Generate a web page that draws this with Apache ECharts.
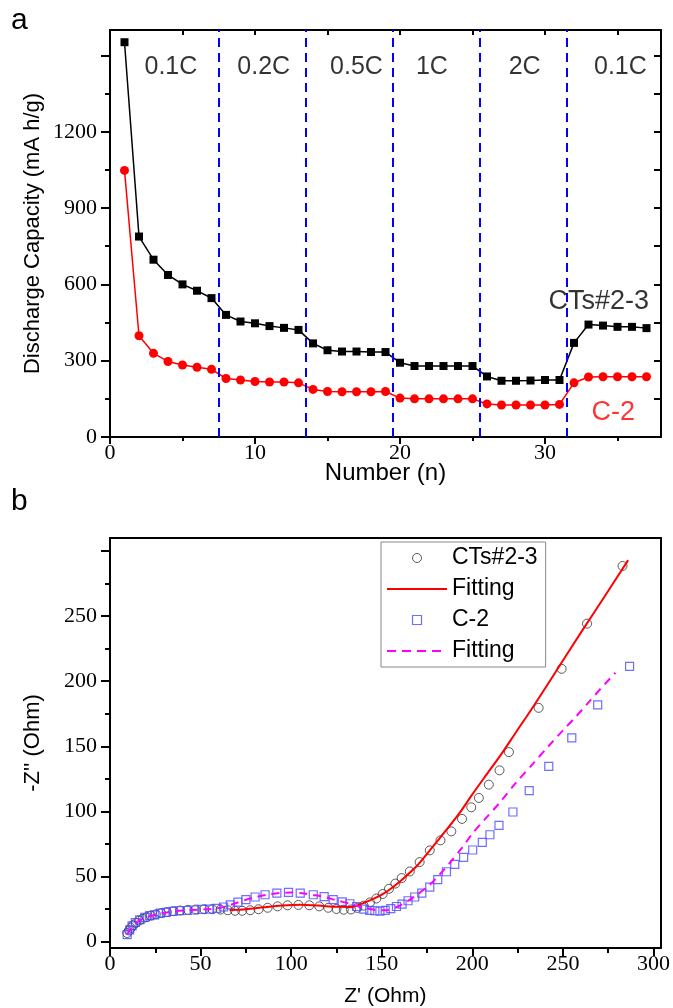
<!DOCTYPE html>
<html><head><meta charset="utf-8">
<script src="https://cdn.jsdelivr.net/npm/echarts@6/dist/echarts.min.js"></script>
<style>html,body{margin:0;padding:0;background:#fff}#c{width:673px;height:1008px}</style>
</head><body><div id="c"></div>
<script>
// ---------- Panel a: rate capability ----------
const cycles = [1,2,3,4,5,6,7,8,9,10,11,12,13,14,15,16,17,18,19,20,21,22,23,24,25,26,27,28,29,30,31,32,33,34,35,36,37];
const capCTs = [1552,788,697,637,600,575,546,480,454,447,436,429,421,368,341,336,336,334,334,292,279,279,279,279,279,238,221,221,222,224,224,370,442,438,433,433,428];
const capC2  = [1048,398,329,297,283,274,266,230,224,218,216,216,213,187,179,178,178,178,179,153,150,150,150,150,150,130,126,126,126,126,128,213,236,237,237,237,237];
const rateBoundaries = [7.5,13.5,19.5,25.5,31.5];
const rateLabels = ['0.1C','0.2C','0.5C','1C','2C','0.1C'];
const rateLabelX = [4.2,10.6,17.0,22.2,28.6,35.2];
const rateLabelY = [1455,1455,1455,1455,1455,1455];
const seriesLabelText = ['CTs#2-3','C-2'];
const seriesLabelX = [33.7,34.7];
const seriesLabelY = [531,98];
const xMajorA = [0,10,20,30];
const xMinorA = [5,15,25,35];
const xTopA = [5,10,15,20,25,30,35];
const yMajorA = [0,300,600,900,1200,1500];
const yLabelA = [0,300,600,900,1200];
const yMinorA = [150,450,750,1050,1350];
const yRightA = [150,300,450,600,750,900,1050,1200,1350,1500];

// ---------- Panel b: Nyquist plot ----------
const ctsZre = [9.5,10.5,11.5,12.8,14.3,16,18,20.2,22.6,25.3,28.2,31.4,35,38.8,43,47.4,52,56.5,61,65,69,73,77.4,82,87,92.5,98,104,110,115.5,120.5,125,129,133,136.5,140,143.5,147,150.5,154,157.5,161,165.5,170.9,176.5,182.4,188.4,194.3,199.4,203.6,209.1,215,220.2,236.6,249.3,263.3,282.9];
const ctsZim = [6.5,8.5,10.5,12.5,14.3,16,17.4,18.7,19.9,20.9,21.8,22.6,23.3,23.8,24.3,24.6,24.8,24.8,24.5,24.0,23.6,23.6,24.0,24.8,25.9,27,27.8,28.1,27.8,27,25.9,25,24.4,24.6,25.8,27.5,30,33,36.5,40.5,44.5,48.7,53.8,61,70,77.7,84.6,94.2,103.1,110.3,120.5,131.5,145.5,179.5,209.5,244.2,288.5];
const c2Zre = [9.5,10.9,12.2,14,16.4,19.2,21.9,24.7,27.8,31.1,34.8,38.4,42.5,46.5,50.8,55,59,62.7,66.4,70.6,75,80.1,85.6,92.1,98.5,105,112.2,118.2,123.2,128.2,132.4,136.1,140.1,143.4,146.2,149,151.9,155,158.1,161.2,164.5,168.2,172.1,176.5,180.9,185.7,190.3,195.2,200.2,205.5,209.7,214.7,222.4,231.4,242.2,254.9,269.2,286.8];
const c2Zim = [5.2,9,12,14.6,16.7,18.5,19.8,20.5,21.8,22.3,23.1,23.6,23.8,24.2,24.6,24.9,25.4,26.5,28.2,30.3,32.1,34.2,35.9,37.2,37.7,37.2,35.9,34.4,32.1,30.5,29,26.9,24.9,23.9,23.6,23.4,23.9,25.2,26.9,28.7,31.3,34.2,37.2,41.8,47.5,53.6,59.2,64.6,70.3,76.2,82,89.2,99.5,115.9,134.5,156.4,181.8,211.3];
const fit1Zre = [66,75,85,95,105,115,125,132,136,139.8,145,150,155,160,170,178.3,185.5,193,200,207.7,216,224.2,233.4,245,260,273,286];
const fit1Zim = [24.2,24.8,26.3,27.6,28.2,27.6,26.6,26.5,27.5,29.5,32.5,36,40.5,46,59,73,85.5,98.8,113,128,144,161,180,205,237.5,265,293];
const fit2Zre = [9.5,11,13,16,20,25,30,36,44,52,58,63,68,74,80,87,94,100,106,112,118,125,132.4,138,143.4,148,152.6,158,163.7,170,176.5,182,187.5,194,200.3,207,215,224,233.4,242,249.9,257,263.7,271,279];
const fit2Zim = [5.5,9,12.5,15.8,18.5,20.6,22,23.2,24.1,24.7,25.3,26.6,28.8,31.6,34,36,37.3,37.6,37,35.8,34.4,31.6,29,26.5,25,24,24,26.3,30.5,36.5,43.6,51.5,60.3,71.5,83.4,94,106.5,121.8,136.5,150,162,172.5,183,194.5,206.5];
const xMajorB = [0,50,100,150,200,250,300];
const xMinorB = [25,75,125,175,225,275];
const yMajorB = [0,50,100,150,200,250,300];
const yLabelB = [0,50,100,150,200,250];
const yMinorB = [25,75,125,175,225,275];

const zip = (a,b) => a.map((v,i)=>[v,b[i]]);
const SERIF = 'Liberation Serif';
const SANS = 'Liberation Sans';
const BLK = '#000';

function axisBase(grid, min, max, position) {
  return {gridIndex: grid, type:'value', min:min, max:max, position:position,
    splitLine:{show:false}, axisLine:{show:false, onZero:false, lineStyle:{color:BLK,width:2}},
    axisTick:{show:false}, axisLabel:{show:false}};
}
function tickAxis(grid, min, max, position, values, len, inside, lineOn, labels, margin) {
  const a = axisBase(grid, min, max, position);
  a.axisLine.show = !!lineOn;
  if (values) a.axisTick = {show:true, inside:!!inside, length:len, customValues:values, lineStyle:{color:BLK,width:2}};
  if (labels) a.axisLabel = {show:true, customValues:labels, margin:margin, color:BLK,
      fontFamily:SERIF, fontSize:22, formatter: v => String(v),
      textStyle:{fontFamily:SERIF, fontSize:22}};
  return a;
}

const xAxes = [
  Object.assign(tickAxis(0,0,38,'bottom',xMajorA,7,false,true,xMajorA,5),
    {name:'Number (n)', nameLocation:'middle', nameGap:24, nameMoveOverlap:false, nameTextStyle:{fontFamily:SANS,fontSize:24,color:BLK}}),
  tickAxis(0,0,38,'bottom',xMinorA,4,false,false),
  tickAxis(0,0,38,'top',xTopA,5,true,true),
  Object.assign(tickAxis(1,0,304,'bottom',xMajorB,8,false,true,xMajorB,5),
    {name:"Z' (Ohm)", nameLocation:'middle', nameGap:38, nameMoveOverlap:false, nameTextStyle:{fontFamily:SANS,fontSize:21,color:BLK}}),
  tickAxis(1,0,304,'bottom',xMinorB,5,false,false),
  tickAxis(1,0,304,'top',null,0,false,true)
];
const yAxes = [
  Object.assign(tickAxis(0,0,1600,'left',yMajorA,9,false,true,yLabelA,13),
    {name:'Discharge Capacity (mA h/g)', nameLocation:'middle', nameGap:66, nameMoveOverlap:false, nameTextStyle:{fontFamily:SANS,fontSize:22,color:BLK}}),
  tickAxis(0,0,1600,'left',yMinorA,5,false,false),
  tickAxis(0,0,1600,'right',yRightA,7,true,true),
  Object.assign(tickAxis(1,-5,310,'left',yMajorB,9,false,true,yLabelB,13),
    {name:"-Z'' (Ohm)", nameLocation:'middle', nameGap:66, nameMoveOverlap:false, nameTextStyle:{fontFamily:SANS,fontSize:22,color:BLK}}),
  tickAxis(1,-5,310,'left',yMinorB,5,false,false),
  tickAxis(1,-5,310,'right',null,0,false,true)
];

const dashIcon = 'path://M0,0H9V2H0Z M15,0H24V2H15Z M30,0H39V2H30Z M45,0H54V2H45Z M60,0H60.01V2H60Z';
const option = {
  animation:false,
  backgroundColor:'#fff',
  textStyle:{fontFamily:SANS},
  grid:[
    {left:110, right:12, top:30, height:407},
    {left:110, right:11, top:538, height:410}
  ],
  xAxis: xAxes,
  yAxis: yAxes,
  legend:{
    show:true, orient:'vertical', left:381, top:542, selectedMode:false, symbolKeepAspect:true,
    padding:[4,8,4,6], itemGap:7, itemWidth:60, itemHeight:9,
    backgroundColor:'#fff', borderColor:'#888', borderWidth:1,
    textStyle:{fontFamily:SANS, fontSize:23, lineHeight:24, color:BLK},
    data:[
      {name:'CTs#2-3', icon:'circle', itemStyle:{color:'rgba(0,0,0,0)', borderColor:'#333', borderWidth:1}},
      {name:'Fitting', icon:'path://M0,0H60V2H0Z', itemStyle:{color:'#ff0000', borderWidth:0}},
      {name:'C-2', icon:'path://M0,0H10V10H0Z', itemStyle:{color:'rgba(0,0,0,0)', borderColor:'#4a4aff', borderWidth:1.2}},
      {name:'Fitting ', icon:dashIcon, itemStyle:{color:'#ff00ff', borderWidth:0}}
    ]
  },
  graphic:[
    {type:'text', left:11, top:6, style:{text:'a', font:"30px 'Liberation Sans'", fill:BLK}},
    {type:'text', left:11, top:487, style:{text:'b', font:"30px 'Liberation Sans'", fill:BLK}}
  ],
  series:[
    {name:'CTs#2-3 (a)', type:'line', xAxisIndex:0, yAxisIndex:0, data:zip(cycles,capCTs),
     symbol:'rect', symbolSize:8, itemStyle:{color:BLK}, lineStyle:{color:BLK,width:1.5}, z:4,
     markLine:{silent:true, symbol:['none','none'], label:{show:false},
       lineStyle:{color:'#0000ff', type:[9,6], width:2},
       data: rateBoundaries.map(v=>({xAxis:v}))}},
    {name:'C-2 (a)', type:'line', xAxisIndex:0, yAxisIndex:0, data:zip(cycles,capC2),
     symbol:'circle', symbolSize:9, itemStyle:{color:'#ff0000'}, lineStyle:{color:'#ff0000',width:1.5}, z:4},
    {name:'rates', type:'scatter', xAxisIndex:0, yAxisIndex:0, symbolSize:0, silent:true,
     data: rateLabels.map((t,i)=>({name:t, value:[rateLabelX[i], rateLabelY[i]]})),
     label:{show:true, position:'inside', formatter:'{b}', fontFamily:SANS, fontSize:25, color:BLK}},
    {name:'series labels', type:'scatter', xAxisIndex:0, yAxisIndex:0, symbolSize:0, silent:true,
     data: seriesLabelText.map((t,i)=>({name:t, value:[seriesLabelX[i], seriesLabelY[i]],
        label:{color: i===0 ? BLK : '#ff0000'}})),
     label:{show:true, position:'inside', formatter:'{b}', fontFamily:SANS, fontSize:27}},

    {name:'CTs#2-3', type:'scatter', xAxisIndex:3, yAxisIndex:3, data:zip(ctsZre,ctsZim),
     symbol:'circle', symbolSize:9, itemStyle:{color:'rgba(0,0,0,0)', borderColor:'#333', borderWidth:1}, z:2},
    {name:'C-2', type:'scatter', xAxisIndex:3, yAxisIndex:3, data:zip(c2Zre,c2Zim),
     symbol:'rect', symbolSize:8, itemStyle:{color:'rgba(0,0,0,0)', borderColor:'#4a4aff', borderWidth:1.2}, z:2},
    {name:'Fitting', type:'line', xAxisIndex:3, yAxisIndex:3, data:zip(fit1Zre,fit1Zim),
     symbol:'none', showSymbol:false, smooth:0.3, lineStyle:{color:'#ff0000', width:2}, itemStyle:{color:'#ff0000'}, z:3},
    {name:'Fitting ', type:'line', xAxisIndex:3, yAxisIndex:3, data:zip(fit2Zre,fit2Zim),
     symbol:'none', showSymbol:false, smooth:0.3, lineStyle:{color:'#ff00ff', width:2, type:[8,6]}, itemStyle:{color:'#ff00ff'}, z:3}
  ]
};
const chart = echarts.init(document.getElementById('c'));
chart.setOption(option);
</script></body></html>
